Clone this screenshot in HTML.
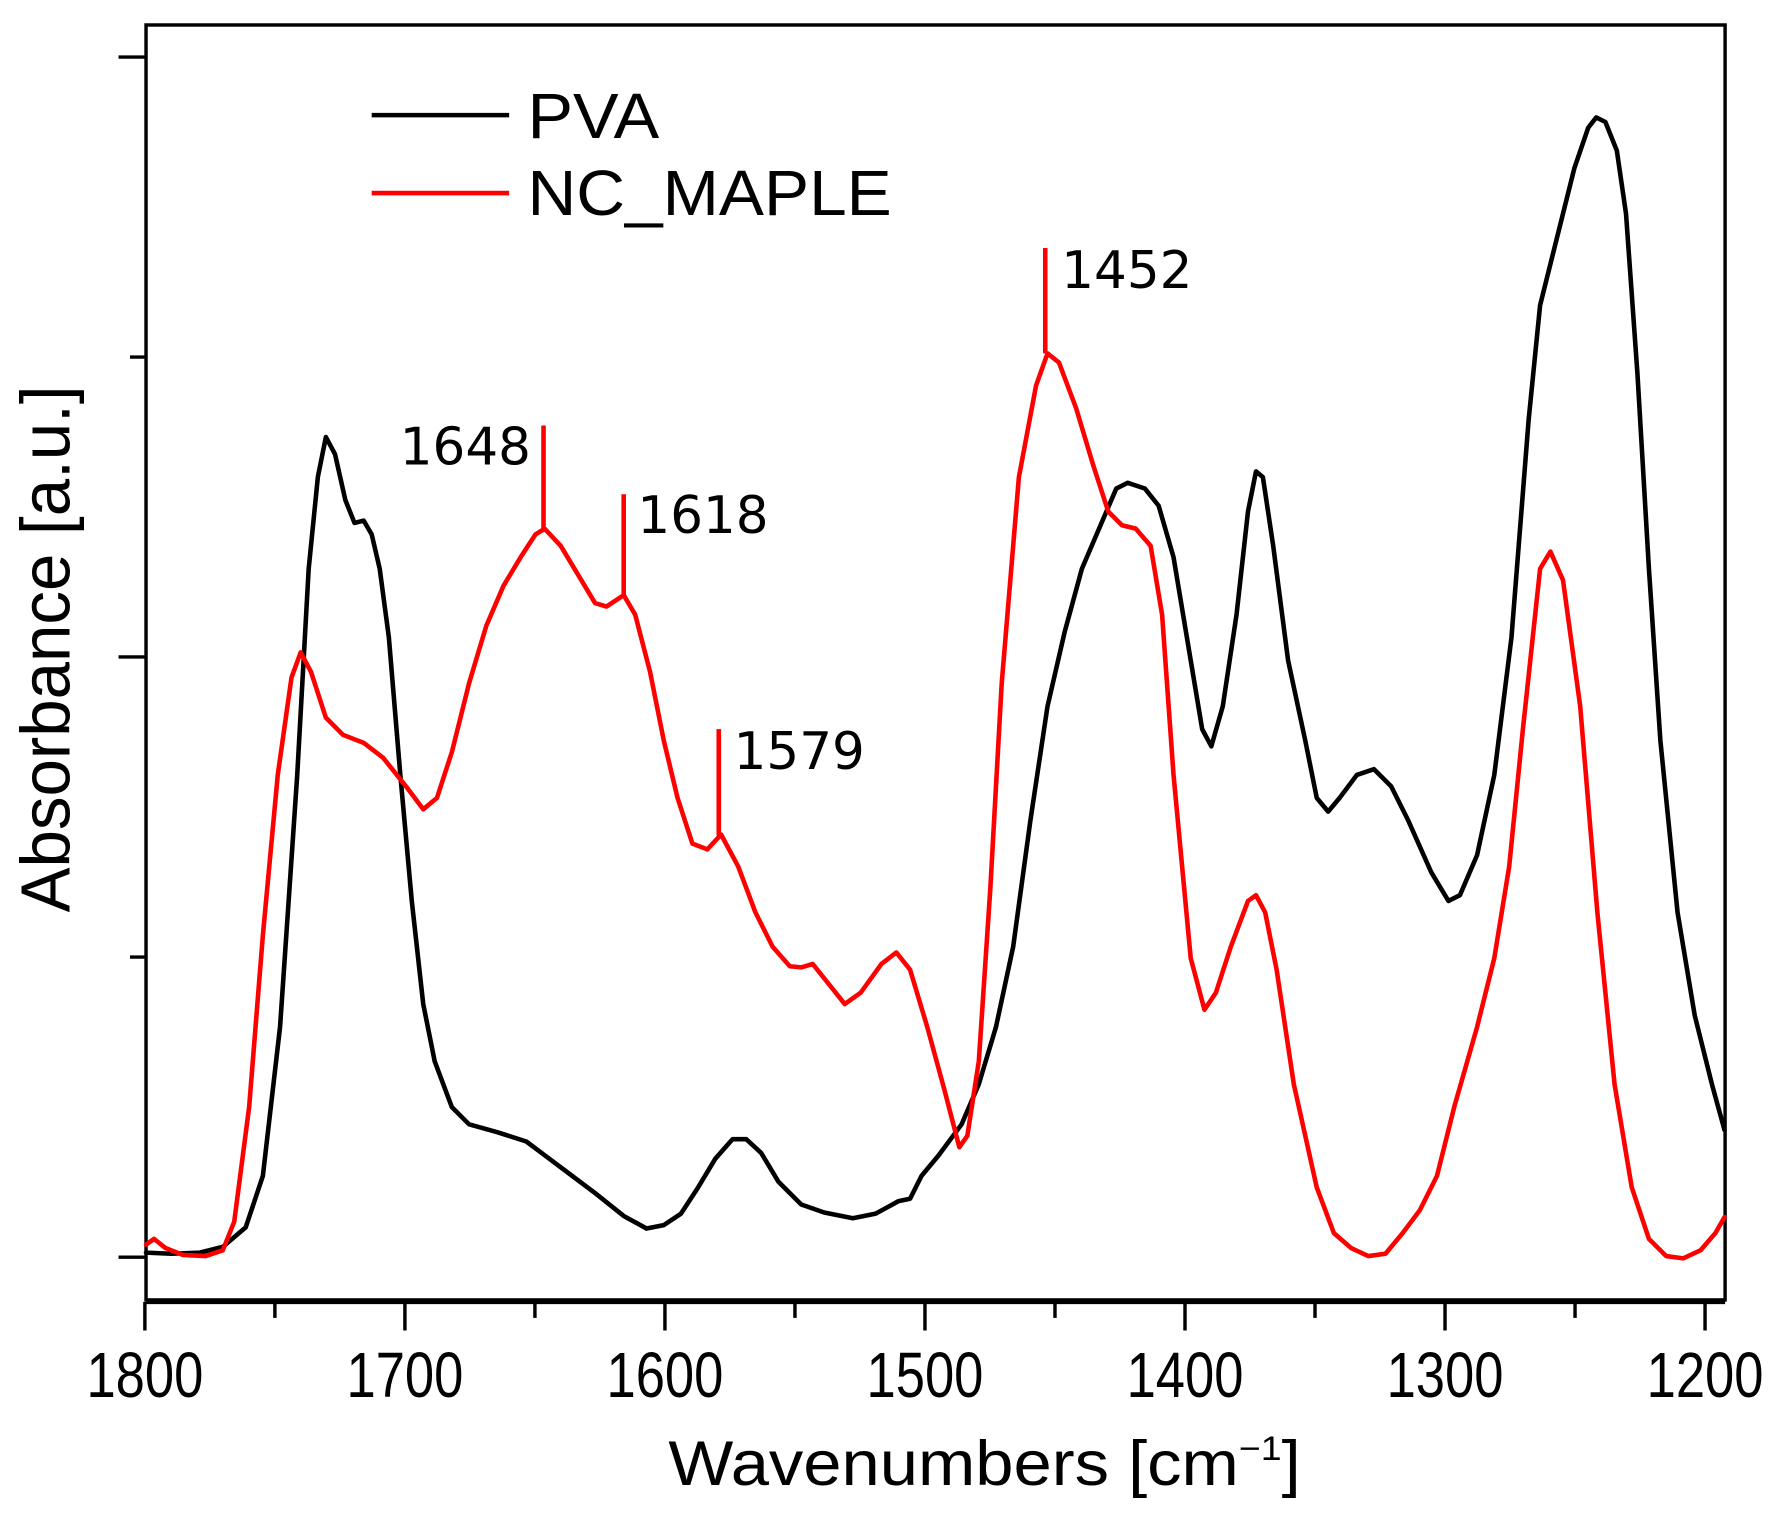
<!DOCTYPE html>
<html><head><meta charset="utf-8"><style>html,body{margin:0;padding:0;background:#fff}svg{display:block}</style></head>
<body>
<svg width="1787" height="1529" viewBox="0 0 1787 1529" xmlns="http://www.w3.org/2000/svg">
<rect width="1787" height="1529" fill="#fff"/>
<g transform="matrix(1.1455,0,0,1.1455,-0.6,-4)">
<rect x="128" y="25.3" width="1378.5" height="1113" fill="none" stroke="#000" stroke-width="3"/>
<line x1="128" y1="1140" x2="1506.5" y2="1140" stroke="#000" stroke-width="4"/>
<g stroke="#000" stroke-width="3">
<line x1="104" y1="53.3" x2="128" y2="53.3"/>
<line x1="114" y1="315.2" x2="128" y2="315.2"/>
<line x1="104" y1="577" x2="128" y2="577"/>
<line x1="114" y1="839" x2="128" y2="839"/>
<line x1="104" y1="1101" x2="128" y2="1101"/>
<line x1="127" y1="1140" x2="127" y2="1165"/>
<line x1="240.5" y1="1140" x2="240.5" y2="1154"/>
<line x1="354" y1="1140" x2="354" y2="1165"/>
<line x1="467.5" y1="1140" x2="467.5" y2="1154"/>
<line x1="581" y1="1140" x2="581" y2="1165"/>
<line x1="694.5" y1="1140" x2="694.5" y2="1154"/>
<line x1="808" y1="1140" x2="808" y2="1165"/>
<line x1="921.5" y1="1140" x2="921.5" y2="1154"/>
<line x1="1035" y1="1140" x2="1035" y2="1165"/>
<line x1="1148.5" y1="1140" x2="1148.5" y2="1154"/>
<line x1="1262" y1="1140" x2="1262" y2="1165"/>
<line x1="1375.5" y1="1140" x2="1375.5" y2="1154"/>
<line x1="1489" y1="1140" x2="1489" y2="1165"/>
</g>
<g font-family="Liberation Sans, sans-serif" font-size="56" fill="#000" text-anchor="middle">
<text x="127" y="1223" textLength="102" lengthAdjust="spacingAndGlyphs">1800</text>
<text x="354" y="1223" textLength="102" lengthAdjust="spacingAndGlyphs">1700</text>
<text x="581" y="1223" textLength="102" lengthAdjust="spacingAndGlyphs">1600</text>
<text x="808" y="1223" textLength="102" lengthAdjust="spacingAndGlyphs">1500</text>
<text x="1035" y="1223" textLength="102" lengthAdjust="spacingAndGlyphs">1400</text>
<text x="1262" y="1223" textLength="102" lengthAdjust="spacingAndGlyphs">1300</text>
<text x="1489" y="1223" textLength="102" lengthAdjust="spacingAndGlyphs">1200</text>
<text x="860" y="1300" font-size="55" textLength="552" lengthAdjust="spacingAndGlyphs">Wavenumbers [cm<tspan dy="-22" font-size="30">−1</tspan><tspan dy="22">]</tspan></text>
<text transform="translate(61,570) rotate(-90)" x="0" y="0" font-size="61" textLength="460" lengthAdjust="spacingAndGlyphs">Absorbance [a.u.]</text>
</g>
<line x1="325" y1="104" x2="445" y2="104" stroke="#000" stroke-width="4"/>
<line x1="325" y1="172" x2="445" y2="172" stroke="#f00" stroke-width="4"/>
<g font-family="Liberation Sans, sans-serif" font-size="56" fill="#000">
<text x="461" y="124" textLength="115" lengthAdjust="spacingAndGlyphs">PVA</text>
<text x="461" y="191" textLength="318" lengthAdjust="spacingAndGlyphs">NC_MAPLE</text>
</g>
<polyline fill="none" stroke="#000" stroke-width="4" stroke-linejoin="round" stroke-linecap="round" points="128,1097 150,1098 175,1097 195,1092 215,1075 230,1030 245,900 260,680 270,500 278,420 285,385 293,400 302,440 310,460 318,458 325,470 332,500 340,560 350,680 360,790 370,880 380,930 395,970 410,985 435,992 460,1000 480,1015 500,1030 520,1045 545,1065 565,1076 580,1073 595,1063 610,1040 625,1015 640,998 652,998 665,1010 680,1035 700,1055 720,1062 745,1067 765,1063 785,1052 795,1050 805,1030 820,1012 840,985 855,950 870,900 885,830 900,720 915,620 930,555 945,500 960,465 975,430 985,425 1000,430 1012,445 1025,490 1040,580 1050,640 1058,655 1068,620 1080,540 1090,450 1097,415 1103,420 1112,480 1125,580 1140,650 1150,700 1160,712 1170,700 1185,680 1200,675 1215,690 1230,720 1250,765 1265,790 1275,785 1290,750 1305,680 1320,560 1335,370 1345,270 1360,210 1375,150 1387,115 1394,106 1402,110 1412,135 1420,190 1430,330 1440,500 1450,650 1465,800 1480,890 1495,950 1506,990"/>
<polyline fill="none" stroke="#f00" stroke-width="4" stroke-linejoin="round" stroke-linecap="round" points="128,1090 135,1085 145,1093 160,1099 180,1100 195,1095 205,1070 218,970 230,820 243,680 255,595 263,573 272,590 285,630 300,645 318,652 335,665 355,690 370,710 382,700 395,660 410,600 425,550 440,515 455,490 468,470 476,465 490,480 505,505 520,530 530,533 545,523 555,540 568,590 580,650 592,700 605,740 618,745 630,732 645,760 660,800 675,830 690,847 700,848 710,845 722,860 738,880 752,870 770,845 783,835 795,850 810,900 825,955 838,1005 845,995 855,930 865,780 875,600 890,420 905,340 915,312 925,320 940,360 955,410 968,450 980,462 992,465 1005,480 1015,540 1025,680 1040,840 1052,885 1062,870 1075,830 1090,790 1097,785 1105,800 1115,850 1130,950 1150,1040 1165,1080 1180,1093 1195,1100 1210,1098 1225,1080 1240,1060 1255,1030 1270,970 1290,900 1305,840 1318,760 1330,640 1345,500 1354,485 1365,510 1380,620 1395,800 1410,950 1425,1040 1440,1085 1455,1100 1470,1102 1485,1095 1498,1080 1506,1066"/>
<g stroke="#f00" stroke-width="4">
<line x1="475" y1="375" x2="475" y2="468"/>
<line x1="545" y1="435" x2="545" y2="523"/>
<line x1="628" y1="640" x2="628" y2="733"/>
<line x1="913" y1="220" x2="913" y2="312"/>
</g>
<g font-family="DejaVu Sans, sans-serif" font-size="45" fill="#000">
<text x="464" y="409" text-anchor="end">1648</text>
<text x="557" y="469">1618</text>
<text x="641" y="675">1579</text>
<text x="927" y="255">1452</text>
</g>
</g>
</svg>
</body></html>
